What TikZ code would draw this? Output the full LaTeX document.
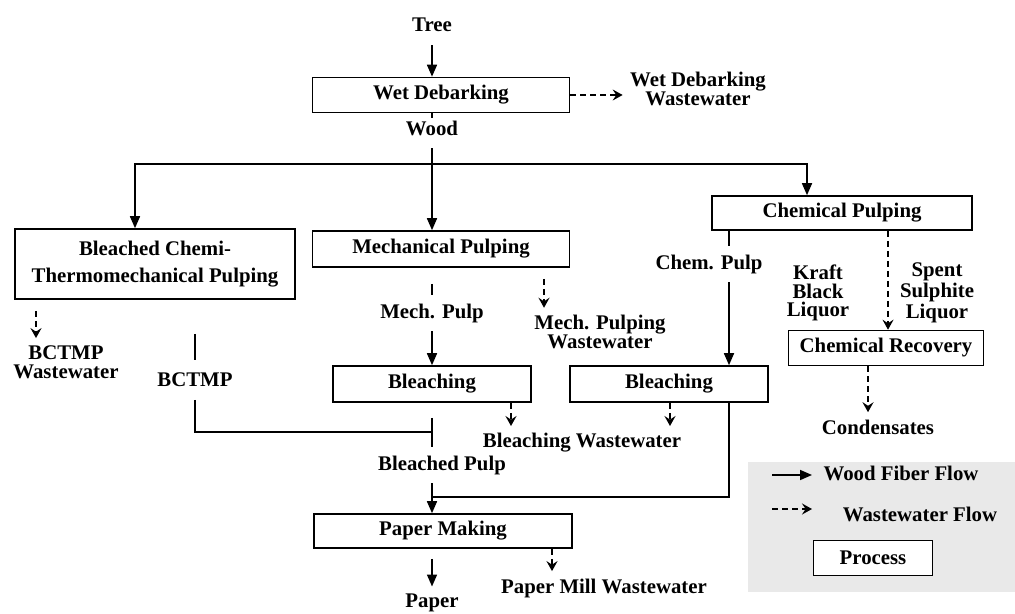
\documentclass[tikz,border=0pt]{standalone}
\usepackage{fontspec}
\setmainfont{Liberation Serif}
\usetikzlibrary{arrows.meta}
\begin{document}
\begin{tikzpicture}[x=0.5pt,y=-0.5pt,line width=0.8pt,
    font=\fontsize{10.4}{9.4}\selectfont\bfseries,
    proc/.style={draw,inner sep=0pt,align=center},
    lbl/.style={align=center},
    cut/.style={inner xsep=2pt,inner ysep=4pt},
    flow/.style={-{Triangle[length=6pt,width=5pt]}},
    waste/.style={dash pattern=on 3pt off 2pt,-{Stealth[length=5pt,width=5.5pt,inset=1.8pt]}}]
    \useasboundingbox (0,0) rectangle (1015,614);

    % Hilfspunkte
    \coordinate (spine) at (432,0);
    \coordinate (split) at (432,164);
    \coordinate (join) at (432,432);
    \coordinate (merge) at (432,497);
    \coordinate (cpx) at (729,0);
    \coordinate (crx) at (888,0);
    \coordinate (cdx) at (868,0);
    \coordinate (mwx) at (544,0);
    \coordinate (mbx) at (511,0);
    \coordinate (cbx) at (670,0);
    \coordinate (bcx) at (195,0);
    \coordinate (bwx) at (36,0);
    \coordinate (pmx) at (552,0);

    % Entrindung
    \node (tree) at (432,25) {Tree};
    \node[proc,minimum width=128.5pt,minimum height=17.5pt] (debark) at (441,95) {Wet Debarking};
    \node[lbl] (debarkww) at (698,89) {Wet Debarking\\Wastewater};
    \node[inner xsep=2pt,inner ysep=1pt] (wood) at (432,128) {Wood};
    \draw[flow,shorten <=3pt] (tree) -- (debark.north -| spine);
    \draw[waste] (debark.east) -- (debark.east -| debarkww.west);
    \draw (debark.south -| spine) -- (wood);

    % Aufschluss
    \node[proc,minimum width=140pt,minimum height=35pt,font=\fontsize{10.4}{13.5}\selectfont\bfseries] (bctmp) at (155,264) {Bleached Chemi-\\Thermomechanical Pulping};
    \node[proc,minimum width=128.5pt,minimum height=18pt] (mechpulp) at (441,249) {Mechanical Pulping};
    \node[proc,minimum width=130pt,minimum height=17pt] (chempulp) at (842,213) {Chemical Pulping};
    \draw[flow,shorten <=5pt] (wood) -- (mechpulp.north -| spine);
    \draw[flow] (split) -| ([xshift=-10pt]bctmp.north);
    \draw[flow] (split) -| ([xshift=-17.5pt]chempulp.north);
    \node[lbl] (bctmpww) at (66,362) {BCTMP\\Wastewater};
    \draw[waste,shorten <=5.5pt] (bctmp.south -| bwx) -- (bctmpww.north -| bwx);

    % Mechanisch
    \node[cut] (mechp) at (432,313) {Mech. Pulp};
    \node[lbl] (mechww) at (600,332) {Mech. Pulping\\Wastewater};
    \node[proc,minimum width=99pt,minimum height=18pt] (mbleach) at (432,384) {Bleaching};
    \draw[shorten <=8pt] (mechpulp.south -| spine) -- (mechp);
    \draw[flow] (mechp) -- (mbleach.north -| spine);
    \draw[waste,shorten <=5.5pt] (mechpulp.south -| mwx) -- (mechww.north -| mwx);

    % Chemisch
    \node[cut] (chemp) at (709,264) {Chem. Pulp};
    \node[proc,minimum width=99pt,minimum height=18pt] (cbleach) at (669,384) {Bleaching};
    \node[lbl] (kraft) at (818,293) {Kraft\\Black\\Liquor};
    \node[lbl] (spent) at (937,293) {Spent\\Sulphite\\Liquor};
    \node[proc,minimum width=97.5pt,minimum height=17.5pt] (chemrec) at (886,348) {Chemical Recovery};
    \node (cond) at (878,427) {Condensates};
    \draw (chempulp.south -| cpx) -- (chemp.north -| cpx);
    \draw[flow] (chemp.south -| cpx) -- (cbleach.north -| cpx);
    \draw[waste] (chempulp.south -| crx) -- (chemrec.north -| crx);
    \draw[waste] (chemrec.south -| cdx) -- (cond.north -| cdx);

    % Bleiche
    \node[lbl] (bleachww) at (582,443) {Bleaching Wastewater};
    \node[cut,inner ysep=6pt] (bctmpl) at (195,380) {BCTMP};
    \node[cut] (bpulp) at (442,465) {Bleached Pulp};
    \draw[waste] (mbleach.south -| mbx) -- (bleachww.north -| mbx);
    \draw[waste] (cbleach.south -| cbx) -- (bleachww.north -| cbx);
    \draw[shorten <=17pt] (bctmp.south -| bcx) -- (bctmpl);
    \draw (bctmpl) |- (join);
    \draw[shorten <=7.5pt] (mbleach.south -| spine) -- (bpulp.north -| spine);
    \draw (cbleach.south -| cpx) |- (merge);

    % Papier
    \node[proc,minimum width=129pt,minimum height=17pt] (papermk) at (443,531) {Paper Making};
    \node (paper) at (432,603) {Paper};
    \node[lbl] (pmww) at (604,588) {Paper Mill Wastewater};
    \draw[flow] (bpulp.south -| spine) -- (papermk.north -| spine);
    \draw[flow,shorten <=5pt] (papermk.south -| spine) -- (paper);
    \draw[waste] (papermk.south -| pmx) -- (pmww.north -| pmx);

    % Legende
    \fill[gray!17] (748,462) rectangle (1015,592);
    \node (lgfiber) at (901,473) {Wood Fiber Flow};
    \node (lgwaste) at (920,514) {Wastewater Flow};
    \node[proc,fill=white,minimum width=59.5pt,minimum height=17.5pt] (lgproc) at (873,558) {Process};
    \coordinate (lgf) at (772,475);
    \coordinate (lgfe) at (812,475);
    \coordinate (lgw) at (772,509);
    \coordinate (lgwe) at (812,509);
    \draw[flow] (lgf) -- (lgfe);
    \draw[waste] (lgw) -- (lgwe);
\end{tikzpicture}
\end{document}
